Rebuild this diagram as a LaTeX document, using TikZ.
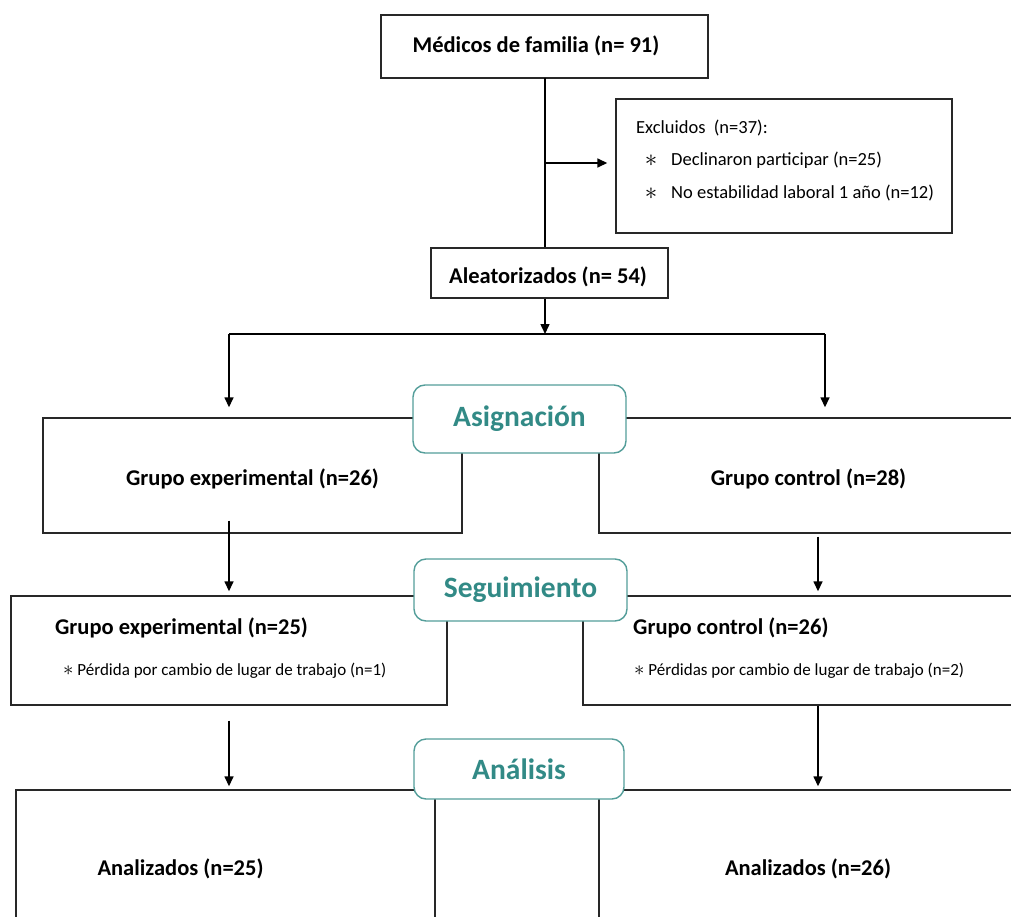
\documentclass[tikz,border=0pt]{standalone}
\usepackage{fontspec}
\setmainfont{Carlito}
\usetikzlibrary{arrows.meta,calc}
\definecolor{phasetext}{RGB}{50,138,134}
\definecolor{phaseline}{RGB}{84,158,154}
\definecolor{boxline}{RGB}{40,40,40}
\newcommand{\bulletstar}{{\fontsize{24}{24}\selectfont$\ast$}}
\newcommand{\notestar}{{\fontsize{21}{21}\selectfont$\ast$}}
\tikzset{
  stagebox/.style={draw=boxline, line width=1.4pt, inner sep=0pt, fill=none},
  phase/.style={draw=phaseline, line width=1.4pt, rounded corners=12pt, fill=white,
    text=phasetext, inner sep=0pt, font=\fontsize{29.5}{34}\selectfont\bfseries},
  lbl/.style={inner sep=0pt, font=\fontsize{22.5}{26}\selectfont\bfseries},
  note/.style={inner sep=0pt, font=\fontsize{18.5}{22}\selectfont},
  small/.style={inner sep=0pt, font=\fontsize{17}{20}\selectfont},
  arr/.style={-{Triangle[length=10pt,width=9pt]}, line width=1.5pt},
  link/.style={line width=1.5pt},
}
\begin{document}
\begin{tikzpicture}[x=1pt,y=-1pt]
\useasboundingbox (0,0) rectangle (1011,917);
\clip (0,0) rectangle (1011,917);

% enrolment
\node[stagebox, minimum width=327pt, minimum height=63pt] (top) at (544.5,46.5) {};
\node[lbl] (toptxt) at (536,46) {Médicos de familia (n= 91)};
\node[stagebox, minimum width=336pt, minimum height=134pt] (excl) at (784,166) {};
\node[note, anchor=west] (ex0) at (636,128) {Excluidos\ \ (n=37):};
\node[note] (b1) at (651,161) {\bulletstar};
\node[note, anchor=west] (ex1) at (671,160) {Declinaron participar (n=25)};
\node[note] (b2) at (651,194) {\bulletstar};
\node[note, anchor=west] (ex2) at (671,193) {No estabilidad laboral 1 año (n=12)};
\node[stagebox, minimum width=237pt, minimum height=50pt] (alea) at (549.5,273) {};
\node[lbl] (aleatxt) at (548,277) {Aleatorizados (n= 54)};

\coordinate (trunk) at (545,78);
\coordinate (branch) at (545,163);
\coordinate (split) at (545,334);
\coordinate (L) at (229,334);
\coordinate (R) at (825,334);
\coordinate (LL) at (229,500);
\coordinate (RR) at (818,500);

\draw[link] (trunk) -- (trunk |- alea.north);
\draw[arr, shorten >=8pt] (branch) -- (branch -| excl.west);
\draw[arr] (trunk |- alea.south) -- (split);
\draw[link] (L) -- (R);

% allocation
\node[stagebox, minimum width=419pt, minimum height=115pt] (ge1) at (252.5,475.5) {};
\node[lbl] (ge1txt) at (252.5,479) {Grupo experimental (n=26)};
\node[stagebox, minimum width=440pt, minimum height=115pt] (gc1) at (819,475.5) {};
\node[lbl] (gc1txt) at (808.5,479) {Grupo control (n=28)};
\draw[arr, shorten >=10pt] (L) -- (L |- ge1.north);
\draw[arr, shorten >=10pt] (R) -- (R |- gc1.north);
\node[phase, minimum width=213pt, minimum height=68pt] (asig) at (519.5,419) {Asignación};

% follow-up
\node[stagebox, minimum width=436pt, minimum height=109pt] (ge2) at (229,650.5) {};
\node[lbl] (ge2txt) at (181.5,628) {Grupo experimental (n=25)};
\node[small, anchor=west] (ge2note) at (63,671) {\notestar\ Pérdida por cambio de lugar de trabajo (n=1)};
\node[stagebox, minimum width=460pt, minimum height=109pt] (gc2) at (813,650.5) {};
\node[lbl, anchor=west] (gc2txt) at (633,628) {Grupo control (n=26)};
\node[small, anchor=west] (gc2note) at (634,671) {\notestar\ Pérdidas por cambio de lugar de trabajo (n=2)};
\draw[arr, shorten >=4pt] ($(LL |- ge1.south)+(0,-13)$) -- (LL |- ge2.north);
\draw[arr, shorten >=4pt] ($(RR |- gc1.south)+(0,3)$) -- (RR |- gc2.north);
\node[phase, minimum width=213pt, minimum height=62pt] (segu) at (520.5,590) {Seguimiento};

% analysis
\node[stagebox, minimum width=419pt, minimum height=200pt] (an1) at (225.5,890) {};
\node[lbl] (an1txt) at (180.5,869) {Analizados (n=25)};
\node[stagebox, minimum width=440pt, minimum height=200pt] (an2) at (819,890) {};
\node[lbl] (an2txt) at (808,869) {Analizados (n=26)};
\draw[arr, shorten >=3pt] ($(LL |- ge2.south)+(0,15)$) -- (LL |- an1.north);
\draw[arr, shorten >=3pt] (RR |- gc2.south) -- (RR |- an2.north);
\node[phase, minimum width=210pt, minimum height=60pt] (anal) at (519,769) {Análisis};
\end{tikzpicture}
\end{document}
